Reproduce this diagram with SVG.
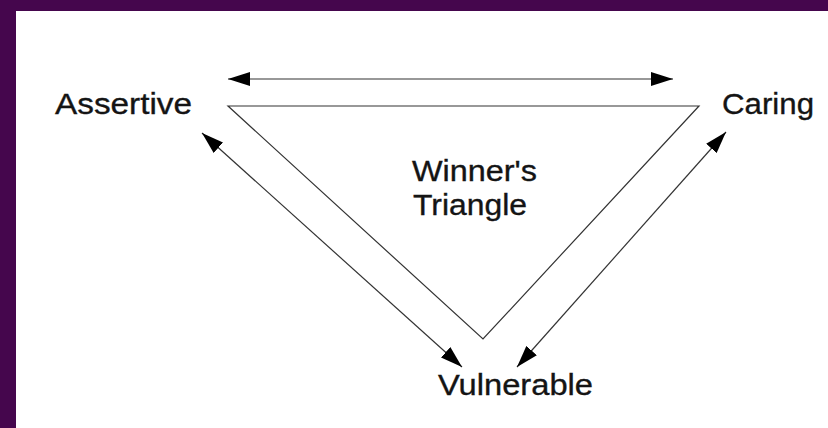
<svg xmlns="http://www.w3.org/2000/svg" width="828" height="428" viewBox="0 0 828 428">
  <style>
    .lbl { font-family: "Liberation Sans", Arial, sans-serif; font-size: 30px; fill: #141414; stroke: #141414; stroke-width: 0.35; }
    .edge { stroke: #333; stroke-width: 1.2; fill: none; }
  </style>
  <defs>
    <marker id="head" viewBox="0 0 22 14" refX="22" refY="7" markerWidth="22" markerHeight="14" markerUnits="userSpaceOnUse" orient="auto-start-reverse">
      <path d="M0,0 L22,7 L0,14 Z" fill="#000"/>
    </marker>
  </defs>
  <!-- background and frame -->
  <rect x="0" y="0" width="828" height="428" fill="#fff"/>
  <rect x="0" y="0" width="828" height="11" fill="#45064d"/>
  <rect x="0" y="0" width="16" height="428" fill="#45064d"/>

  <g id="connectors">
    <line class="edge" x1="228" y1="79" x2="673" y2="79" marker-start="url(#head)" marker-end="url(#head)"/>
    <line class="edge" x1="202" y1="133" x2="462" y2="367" marker-start="url(#head)" marker-end="url(#head)"/>
    <line class="edge" x1="517" y1="367" x2="726" y2="132" marker-start="url(#head)" marker-end="url(#head)"/>
  </g>

  <g id="triangle">
    <polygon class="edge" points="228,106 699,106 483,339"/>
    <text class="lbl" x="412" y="181" textLength="125" lengthAdjust="spacingAndGlyphs">Winner's</text>
    <text class="lbl" x="413" y="215" textLength="114" lengthAdjust="spacingAndGlyphs">Triangle</text>
  </g>

  <g id="assertive">
    <text class="lbl" x="55" y="114" textLength="137" lengthAdjust="spacingAndGlyphs">Assertive</text>
  </g>
  <g id="caring">
    <text class="lbl" x="722" y="114" textLength="92" lengthAdjust="spacingAndGlyphs">Caring</text>
  </g>
  <g id="vulnerable">
    <text class="lbl" x="438" y="395" textLength="155" lengthAdjust="spacingAndGlyphs">Vulnerable</text>
  </g>
</svg>
